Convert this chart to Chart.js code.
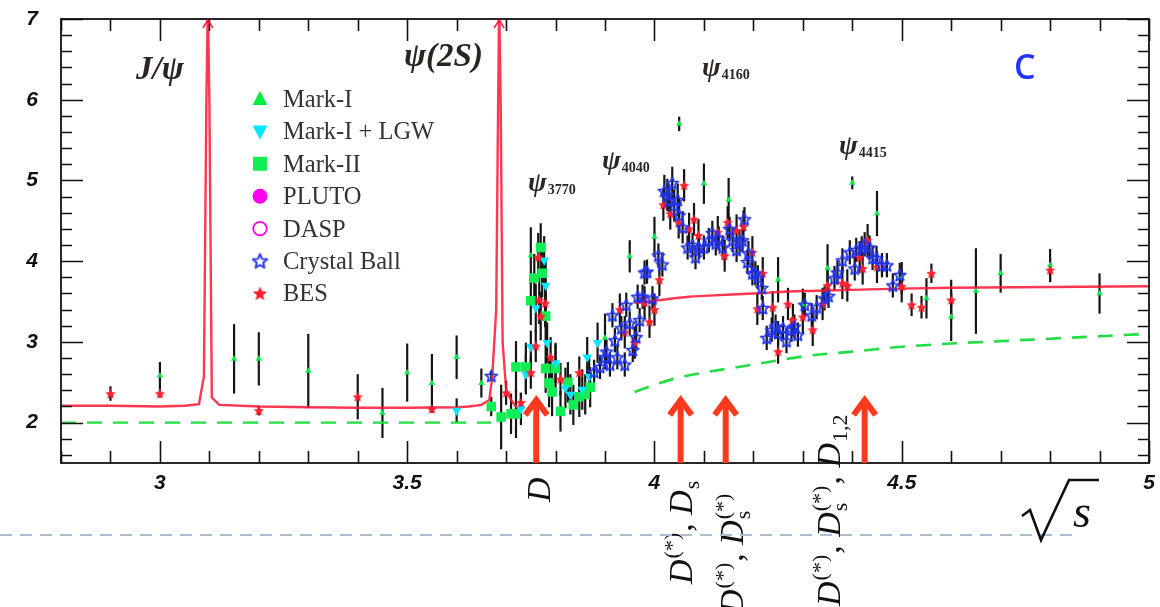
<!DOCTYPE html>
<html><head><meta charset="utf-8">
<script src="https://cdn.jsdelivr.net/npm/chart.js@4.4.0/dist/chart.umd.min.js"></script>
<style>html,body{margin:0;padding:0;background:#fff;}canvas{display:block;}</style>
</head><body>
<canvas id="c" width="1160" height="607" style="width:1160px;height:607px"></canvas>
<script>
// ---------- DATA ----------
const xTickLabels = [3, 3.5, 4, 4.5, 5];
const yTickLabels = [2, 3, 4, 5, 6, 7];

// [sqrt(s), R, error]
const markI = [[3.00,2.58,0.17],[3.15,2.79,0.43],[3.20,2.79,0.33],[3.30,2.64,0.46],[3.45,2.12,0.31],[3.50,2.62,0.36],[3.55,2.49,0.36],[3.60,2.81,0.27],[3.65,2.49,0.18],[3.75,4.07,0.35],[3.90,3.05,0.30],[3.95,4.06,0.20],[4.00,4.30,0.25],[4.05,5.70,0.09],[4.10,4.96,0.25],[4.15,4.76,0.27],[4.25,3.77,0.28],[4.30,3.46,0.20],[4.35,3.91,0.30],[4.40,4.97,0.08],[4.45,4.59,0.28],[4.50,3.79,0.20],[4.55,3.54,0.25],[4.60,3.31,0.30],[4.65,3.63,0.53],[4.70,3.85,0.24],[4.80,3.95,0.20],[4.90,3.60,0.25]];
const markILGW = [[3.60,2.15,0.15],[3.73,2.17,0.20],[3.74,2.60,0.25],[3.75,2.94,0.20],[3.76,3.42,0.30],[3.777,4.01,0.30],[3.78,3.70,0.30],[3.783,2.99,0.25],[3.80,2.74,0.25],[3.82,2.43,0.25],[3.83,2.35,0.25],[3.854,2.41,0.25],[3.864,2.81,0.25],[3.868,2.57,0.25],[3.885,2.99,0.25]];
const markII = [[3.67,2.20,0.12],[3.69,2.07,0.40],[3.71,2.11,0.25],[3.72,2.11,0.30],[3.72,2.69,0.32],[3.74,2.69,0.30],[3.75,3.51,0.30],[3.757,3.79,0.30],[3.77,4.17,0.30],[3.773,3.85,0.30],[3.78,3.32,0.30],[3.78,2.67,0.30],[3.787,2.49,0.30],[3.793,2.38,0.30],[3.80,2.67,0.30],[3.81,2.14,0.25],[3.825,2.50,0.25],[3.836,2.22,0.25],[3.848,2.32,0.25],[3.86,2.35,0.25],[3.87,2.44,0.25]];
const pluto = [];
const dasp = [];
const crystalBall = [[3.67,2.58,0.05],[3.878,2.63,0.15],[3.89,2.69,0.15],[3.90,2.81,0.15],[3.903,2.88,0.15],[3.91,2.72,0.15],[3.915,3.33,0.15],[3.92,3.02,0.15],[3.925,2.81,0.15],[3.933,3.17,0.15],[3.94,2.72,0.15],[3.943,3.46,0.15],[3.95,3.23,0.15],[3.956,2.90,0.15],[3.963,3.06,0.15],[3.966,3.56,0.15],[3.97,3.27,0.15],[3.976,3.56,0.15],[3.98,3.86,0.15],[3.985,3.87,0.15],[3.996,3.54,0.15],[4.008,4.07,0.15],[4.016,3.96,0.15],[4.02,4.87,0.20],[4.026,4.82,0.20],[4.03,4.75,0.20],[4.036,4.97,0.20],[4.04,4.69,0.20],[4.047,4.76,0.20],[4.05,4.57,0.20],[4.057,4.42,0.20],[4.067,4.17,0.15],[4.077,4.20,0.15],[4.083,4.05,0.15],[4.09,4.17,0.15],[4.10,4.17,0.15],[4.11,4.26,0.15],[4.117,4.35,0.15],[4.124,4.22,0.15],[4.13,4.28,0.15],[4.138,4.17,0.15],[4.152,4.40,0.15],[4.158,4.26,0.15],[4.166,4.14,0.15],[4.172,4.24,0.15],[4.178,4.26,0.15],[4.182,4.52,0.15],[4.188,3.99,0.15],[4.19,4.10,0.15],[4.198,3.85,0.15],[4.204,3.85,0.15],[4.209,3.80,0.15],[4.217,3.67,0.15],[4.219,3.42,0.15],[4.227,3.05,0.15],[4.237,3.15,0.15],[4.245,3.19,0.15],[4.25,3.11,0.15],[4.26,3.17,0.15],[4.267,3.01,0.15],[4.277,3.15,0.15],[4.283,3.19,0.15],[4.29,3.09,0.15],[4.304,3.46,0.15],[4.318,3.33,0.15],[4.328,3.43,0.15],[4.344,3.54,0.15],[4.352,3.57,0.15],[4.364,3.79,0.15],[4.37,3.86,0.15],[4.38,4.01,0.15],[4.395,4.11,0.15],[4.405,3.91,0.15],[4.408,4.14,0.15],[4.419,4.16,0.15],[4.425,4.21,0.15],[4.435,4.17,0.15],[4.441,4.04,0.15],[4.449,4.04,0.15],[4.46,3.95,0.15],[4.47,3.95,0.15],[4.482,3.70,0.15],[4.496,3.83,0.15]];
const bes = [[2.90,2.36,0.09],[3.00,2.36,0.05],[3.20,2.15,0.06],[3.40,2.32,0.28],[3.55,2.17,0.05],[3.70,2.37,0.15],[3.73,2.25,0.12],[3.75,2.62,0.20],[3.76,2.95,0.20],[3.765,4.05,0.30],[3.767,3.52,0.30],[3.779,3.48,0.30],[3.77,3.32,0.30],[3.79,2.81,0.25],[3.81,2.54,0.20],[3.848,2.62,0.20],[3.93,3.40,0.20],[3.94,3.12,0.20],[3.96,2.99,0.20],[3.98,3.49,0.20],[3.99,3.25,0.20],[4.00,3.40,0.20],[4.01,3.77,0.20],[4.018,4.70,0.20],[4.032,4.59,0.20],[4.049,4.48,0.20],[4.06,4.94,0.20],[4.07,4.40,0.20],[4.08,4.52,0.20],[4.089,4.32,0.20],[4.128,4.36,0.20],[4.142,4.07,0.20],[4.148,4.48,0.20],[4.166,4.38,0.20],[4.18,4.43,0.20],[4.198,4.11,0.20],[4.208,3.41,0.20],[4.219,3.85,0.20],[4.239,3.43,0.20],[4.25,2.88,0.15],[4.27,3.47,0.20],[4.28,3.27,0.20],[4.30,3.31,0.20],[4.32,3.15,0.20],[4.34,3.47,0.20],[4.35,3.70,0.20],[4.38,3.73,0.20],[4.39,3.70,0.20],[4.415,4.05,0.20],[4.421,3.91,0.20],[4.431,4.26,0.20],[4.45,3.93,0.20],[4.50,3.69,0.20],[4.52,3.46,0.14],[4.54,3.43,0.14],[4.56,3.85,0.12],[4.60,3.52,0.25],[4.80,3.89,0.15]];

// fit curves
const fitLowX = [2.80,2.90,3.00,3.05,3.079,3.089,3.094,3.097,3.100,3.105,3.12,3.20,3.30,3.40,3.50,3.60,3.625,3.65,3.666,3.672,3.680,3.684,3.686,3.689,3.693,3.70,3.71,3.72,3.73];
const fitLowY = [2.21,2.21,2.20,2.21,2.23,2.57,6.0,7.2,6.0,2.31,2.22,2.20,2.19,2.185,2.185,2.19,2.20,2.22,2.28,2.57,3.40,6.0,7.2,6.0,3.0,2.41,2.28,2.20,2.17];
const fitHighX = [3.96,4.00,4.07,4.10,4.20,4.30,4.40,4.50,4.60,4.80,5.00];
const fitHighY = [3.48,3.51,3.56,3.57,3.60,3.63,3.645,3.66,3.67,3.68,3.69];
const bgLowX = [2.80,3.67];
const bgLowY = [2.00,2.00];
const bgHighX = [3.96,4.00,4.05,4.10,4.17,4.25,4.30,4.40,4.50,4.60,4.70,4.80,4.90,5.00];
const bgHighY = [2.38,2.47,2.56,2.62,2.69,2.77,2.82,2.88,2.94,2.98,3.01,3.04,3.07,3.10];

// resonance peaks (arrows at top) and open-charm thresholds
const peakX = [3.097, 3.686];
const thresholdX = [3.761, 4.053, 4.144, 4.425];
const thresholdTip = 2.33;

// ---------- helpers ----------
function starCanvas(size, fill, stroke, lw){
  const c=document.createElement('canvas'); c.width=c.height=size;
  const g=c.getContext('2d'); const cx=size/2, cy=size/2+0.6, R=size/2-lw, r=R*0.45;
  g.beginPath();
  for(let i=0;i<10;i++){const a=-Math.PI/2+i*Math.PI/5; const rr=i%2?r:R; g.lineTo(cx+rr*Math.cos(a), cy+rr*Math.sin(a));}
  g.closePath();
  if(fill){g.fillStyle=fill; g.fill();}
  if(stroke){g.strokeStyle=stroke; g.lineWidth=lw; g.lineJoin='round'; g.stroke();}
  return c;
}
const cbStar = starCanvas(16, null, '#2233ee', 1.7);
const besStar = starCanvas(13, '#ff2030', null, 1);
const cbStarL = starCanvas(19, null, '#2233ee', 1.9);
const besStarL = starCanvas(17, '#ff2030', null, 1);

const pts = a => a.map(p=>({x:p[0], y:p[1]}));
const line = (xs, ys) => xs.map((x,i)=>({x, y:ys[i]}));

const datasets = [
  {label:'Mark-I', data:pts(markI), errs:markI.map(p=>p[2]), pointStyle:'triangle', pointRadius:3.6, backgroundColor:'#00ee44', borderWidth:0, showLine:false, order:1, legend:{shape:'tri', color:'#00ee44'}},
  {label:'Mark-I + LGW', data:pts(markILGW), errs:markILGW.map(p=>p[2]), pointStyle:'triangle', rotation:180, pointRadius:5.5, backgroundColor:'#00e8ff', borderWidth:0, showLine:false, order:1, legend:{shape:'dtri', color:'#00e8ff'}},
  {label:'Mark-II', data:pts(markII), errs:markII.map(p=>p[2]), pointStyle:'rect', pointRadius:6.8, backgroundColor:'#11ee55', borderWidth:0, showLine:false, order:1, legend:{shape:'sq', color:'#11ee55'}},
  {label:'PLUTO', data:pts(pluto), errs:pluto.map(p=>p[2]), pointStyle:'circle', pointRadius:5, backgroundColor:'#ff00ee', borderWidth:0, showLine:false, order:1, legend:{shape:'circ', color:'#ff00ee'}},
  {label:'DASP', data:pts(dasp), errs:dasp.map(p=>p[2]), pointStyle:'circle', pointRadius:5, backgroundColor:'rgba(0,0,0,0)', borderColor:'#ff00ee', borderWidth:1.5, showLine:false, order:1, legend:{shape:'ocirc', color:'#ff00ee'}},
  {label:'Crystal Ball', data:pts(crystalBall), errs:crystalBall.map(p=>p[2]), pointStyle:cbStar, showLine:false, order:0, legend:{shape:'img', img:cbStarL}},
  {label:'BES', data:pts(bes), errs:bes.map(p=>p[2]), pointStyle:besStar, showLine:false, order:0, legend:{shape:'img', img:besStarL}},
  {label:'fit', data:line(fitLowX, fitLowY), showLine:true, pointRadius:0, borderColor:'rgba(255,20,50,0.85)', borderWidth:2.4, tension:0, order:5},
  {label:'fit2', data:line(fitHighX, fitHighY), showLine:true, pointRadius:0, borderColor:'rgba(255,20,50,0.85)', borderWidth:2.4, cubicInterpolationMode:'monotone', order:5},
  {label:'bg', data:line(bgLowX, bgLowY), showLine:true, pointRadius:0, borderColor:'#22dd44', borderWidth:2.4, borderDash:[15,11], order:6},
  {label:'bg2', data:line(bgHighX, bgHighY), showLine:true, pointRadius:0, borderColor:'#22dd44', borderWidth:2.6, borderDash:[15,11], cubicInterpolationMode:'monotone', order:6}
];

const errorBars = {
  id:'errorBars',
  beforeDatasetsDraw(chart){
    const {ctx, chartArea:a, scales:{x,y}} = chart;
    ctx.save(); ctx.beginPath(); ctx.rect(a.left,a.top,a.right-a.left,a.bottom-a.top); ctx.clip();
    ctx.strokeStyle='#151515'; ctx.lineWidth=2.2;
    chart.data.datasets.forEach(ds=>{
      if(!ds.errs) return;
      ds.data.forEach((p,i)=>{
        const px=x.getPixelForValue(p.x);
        ctx.beginPath(); ctx.moveTo(px, y.getPixelForValue(p.y-ds.errs[i])); ctx.lineTo(px, y.getPixelForValue(p.y+ds.errs[i])); ctx.stroke();
      });
    });
    ctx.restore();
  }
};

function drawShape(ctx, s, cx, cy){
  ctx.fillStyle=s.color; ctx.strokeStyle=s.color;
  ctx.beginPath();
  if(s.shape==='tri'){ctx.moveTo(cx,cy-8);ctx.lineTo(cx+7.5,cy+6);ctx.lineTo(cx-7.5,cy+6);ctx.closePath();ctx.fill();}
  else if(s.shape==='dtri'){ctx.moveTo(cx,cy+8);ctx.lineTo(cx+7.5,cy-6);ctx.lineTo(cx-7.5,cy-6);ctx.closePath();ctx.fill();}
  else if(s.shape==='sq'){ctx.rect(cx-7,cy-7,14,14);ctx.fill();}
  else if(s.shape==='circ'){ctx.arc(cx,cy,7.5,0,Math.PI*2);ctx.fill();}
  else if(s.shape==='ocirc'){ctx.lineWidth=1.8;ctx.arc(cx,cy,6.8,0,Math.PI*2);ctx.stroke();}
  else if(s.shape==='img'){ctx.drawImage(s.img, cx-s.img.width/2, cy-s.img.height/2);}
}

function drawMath(ctx, bx, by, runs, size){
  ctx.save(); ctx.translate(bx,by); ctx.rotate(-Math.PI/2);
  ctx.fillStyle='#111'; ctx.textBaseline='alphabetic'; ctx.textAlign='left';
  let x=0;
  const it=`italic ${size}px "Liberation Serif"`, up=`${size}px "Liberation Serif"`, sm=`${Math.round(size*0.66)}px "Liberation Serif"`;
  runs.forEach(r=>{
    if(typeof r==='string'){
      ctx.font = r==='D'?it:up; ctx.fillText(r,x,0); x+=ctx.measureText(r).width;
    } else {
      ctx.font=sm; let w=0;
      if(r.sup){ctx.fillText(r.sup,x+1,-size*0.38); w=Math.max(w,ctx.measureText(r.sup).width+1);}
      if(r.sub){ctx.fillText(r.sub,x+1,size*0.2); w=Math.max(w,ctx.measureText(r.sub).width+1);}
      x+=w+1;
    }
  });
  ctx.restore();
}

const decor = {
  id:'decor',
  afterDraw(chart){
    const {ctx, chartArea:a, scales:{x,y}} = chart;
    ctx.save();
    // inward ticks
    ctx.strokeStyle='#111'; ctx.lineWidth=1.6;
    for(let i=0;i<=22;i++){
      const v=2.8+i*0.1; const px=Math.round(x.getPixelForValue(v))+0.5;
      const major = Math.abs(v*2-Math.round(v*2))<1e-6; const L = major?22:12;
      ctx.beginPath(); ctx.moveTo(px,a.bottom); ctx.lineTo(px,a.bottom-L); ctx.moveTo(px,a.top); ctx.lineTo(px,a.top+L); ctx.stroke();
    }
    for(let i=0;i<=27;i++){
      const v=1.6+i*0.2; const py=Math.round(y.getPixelForValue(v))+0.5;
      const major = Math.abs(v-Math.round(v))<1e-6; const L = major?22:11;
      ctx.beginPath(); ctx.moveTo(a.left,py); ctx.lineTo(a.left+L,py); ctx.moveTo(a.right,py); ctx.lineTo(a.right-L,py); ctx.stroke();
    }
    ctx.lineWidth=1.8; ctx.strokeRect(a.left,a.top,a.right-a.left,a.bottom-a.top);

    // peak arrowheads
    ctx.strokeStyle='rgba(255,20,50,0.9)'; ctx.lineWidth=1.6;
    peakX.forEach(v=>{const px=x.getPixelForValue(v); ctx.beginPath(); ctx.moveTo(px-5,a.top+9); ctx.lineTo(px,a.top+1); ctx.lineTo(px+5,a.top+9); ctx.stroke();});

    // threshold arrows
    ctx.strokeStyle='#ff3a1c'; ctx.lineWidth=6; ctx.lineCap='butt'; ctx.lineJoin='miter';
    thresholdX.forEach(v=>{
      const px=x.getPixelForValue(v), tip=y.getPixelForValue(thresholdTip);
      ctx.beginPath(); ctx.moveTo(px,a.bottom); ctx.lineTo(px,tip+3); ctx.stroke();
      ctx.beginPath(); ctx.moveTo(px-11,tip+19); ctx.lineTo(px,tip+4); ctx.lineTo(px+11,tip+19); ctx.stroke();
    });

    // resonance labels
    ctx.fillStyle='#2a2520'; ctx.textAlign='left'; ctx.textBaseline='alphabetic';
    ctx.font='bold italic 33px "Liberation Serif"';
    ctx.fillText('J/ψ', 136, 79);
    ctx.fillText('ψ(2S)', 404, 66);
    const psi=(px,py,sub)=>{ctx.font='bold italic 28px "Liberation Serif"'; ctx.fillText('ψ',px,py); const w=ctx.measureText('ψ').width; ctx.font='bold 14px "Liberation Serif"'; ctx.fillText(sub,px+w+1,py+3);};
    psi(528,191,'3770'); psi(602,169,'4040'); psi(702,76,'4160'); psi(839,154,'4415');

    ctx.fillStyle='#2233ff'; ctx.font='600 34px "Open Sans"'; ctx.fillText('C',1014,79);

    // legend
    chart.data.datasets.forEach((ds,i)=>{
      if(!ds.legend) return;
      const cy=99+i*32.4;
      drawShape(ctx, ds.legend, 260, cy);
      ctx.fillStyle='#333'; ctx.font='24.5px "Liberation Serif"'; ctx.fillText(ds.label, 283, cy+8);
    });

    // threshold labels (rotated)
    drawMath(ctx, 550, 502, ['D'], 34);
    drawMath(ctx, 692, 584, ['D',{sup:'(*)'},', ','D',{sub:'s'}], 34);
    drawMath(ctx, 743, 614, ['D',{sup:'(*)'},', ','D',{sup:'(*)',sub:'s'}], 34);
    drawMath(ctx, 840, 606, ['D',{sup:'(*)'},', ','D',{sup:'(*)',sub:'s'},', ','D',{sub:'1,2'}], 34);

    // divider
    ctx.strokeStyle='#a9c0d4'; ctx.lineWidth=2; ctx.setLineDash([12,8]);
    ctx.beginPath(); ctx.moveTo(0,535); ctx.lineTo(1072,535); ctx.stroke(); ctx.setLineDash([]);

    // sqrt(s)
    ctx.strokeStyle='#111'; ctx.lineWidth=2.6; ctx.lineJoin='miter'; ctx.lineCap='butt';
    ctx.beginPath(); ctx.moveTo(1022,516); ctx.lineTo(1030,510); ctx.lineTo(1041,540); ctx.lineTo(1069,480); ctx.lineTo(1099,480); ctx.stroke();
    ctx.fillStyle='#111'; ctx.font='italic 46px "Liberation Serif"'; ctx.fillText('s',1073,527);
    ctx.restore();
  }
};

const tickFont = {family:'"Liberation Sans", Arial, sans-serif', size:21, weight:'bold', style:'italic'};
const noPad = s => { s.paddingTop=0; s.paddingBottom=0; s.paddingLeft=0; s.paddingRight=0; };
new Chart(document.getElementById('c'), {
  type:'scatter',
  data:{datasets},
  options:{
    responsive:false, animation:false, devicePixelRatio:1,
    layout:{padding:{left:0,right:11,top:19,bottom:0}},
    plugins:{legend:{display:false}, tooltip:{enabled:false}},
    scales:{
      x:{type:'linear', min:2.8, max:5.0, grid:{display:false}, border:{display:false},
        afterBuildTicks:s=>{s.ticks=xTickLabels.map(v=>({value:v}));},
        afterFit:s=>{s.height=144; noPad(s);},
        ticks:{font:tickFont, color:'#111', padding:0, maxRotation:0, autoSkip:false, callback:v=>String(v)}},
      y:{type:'linear', min:1.5, max:7, grid:{display:false}, border:{display:false},
        afterBuildTicks:s=>{s.ticks=yTickLabels.map(v=>({value:v}));},
        afterFit:s=>{s.width=61; noPad(s);},
        ticks:{font:tickFont, color:'#111', padding:15, autoSkip:false, callback:v=>String(v)}}
    }
  },
  plugins:[errorBars, decor]
});
</script>
</body></html>
